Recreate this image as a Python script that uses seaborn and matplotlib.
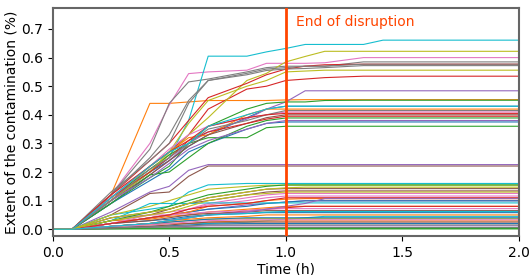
import matplotlib
matplotlib.use("Agg")
import matplotlib.pyplot as plt
import seaborn as sns
import pandas as pd

# sampling times (h)
time_h = [0, 0.083, 0.25, 0.417, 0.5, 0.583, 0.667, 0.833, 0.917, 1.0, 1.083, 1.167, 1.333, 1.417, 2.0]

# extent of contamination per run, blocks of ten runs
runs_01_10 = [
    [0, 0, 0.10, 0.20, 0.24, 0.29, 0.33, 0.39, 0.42, 0.43, 0.43, 0.43, 0.43, 0.43, 0.43],
    [0, 0, 0.12, 0.44, 0.44, 0.445, 0.45, 0.45, 0.45, 0.452, 0.453, 0.453, 0.453, 0.453, 0.453],
    [0, 0, 0.09, 0.18, 0.22, 0.30, 0.32, 0.32, 0.355, 0.36, 0.36, 0.36, 0.36, 0.36, 0.36],
    [0, 0, 0.11, 0.22, 0.27, 0.33, 0.42, 0.49, 0.50, 0.52, 0.525, 0.53, 0.535, 0.535, 0.535],
    [0, 0, 0.09, 0.19, 0.24, 0.30, 0.34, 0.385, 0.42, 0.445, 0.484, 0.484, 0.484, 0.484, 0.484],
    [0, 0, 0.05, 0.125, 0.13, 0.185, 0.221, 0.221, 0.221, 0.221, 0.221, 0.221, 0.221, 0.221, 0.221],
    [0, 0, 0.12, 0.30, 0.434, 0.544, 0.55, 0.556, 0.58, 0.58, 0.58, 0.582, 0.60, 0.60, 0.60],
    [0, 0, 0.12, 0.28, 0.44, 0.515, 0.525, 0.55, 0.565, 0.57, 0.57, 0.57, 0.585, 0.585, 0.585],
    [0, 0, 0.10, 0.20, 0.26, 0.33, 0.39, 0.52, 0.545, 0.585, 0.604, 0.622, 0.622, 0.622, 0.622],
    [0, 0, 0.10, 0.20, 0.25, 0.38, 0.605, 0.605, 0.62, 0.632, 0.646, 0.646, 0.646, 0.661, 0.661],
]
runs_11_20 = [
    [0, 0, 0.02, 0.03, 0.035, 0.045, 0.05, 0.055, 0.058, 0.058, 0.058, 0.058, 0.058, 0.058, 0.058],
    [0, 0, 0.10, 0.22, 0.27, 0.32, 0.33, 0.40, 0.42, 0.42, 0.42, 0.42, 0.42, 0.42, 0.42],
    [0, 0, 0.11, 0.21, 0.26, 0.30, 0.36, 0.42, 0.44, 0.445, 0.445, 0.45, 0.451, 0.451, 0.451],
    [0, 0, 0.12, 0.24, 0.30, 0.38, 0.46, 0.51, 0.54, 0.56, 0.57, 0.575, 0.577, 0.577, 0.577],
    [0, 0, 0.06, 0.13, 0.15, 0.206, 0.226, 0.226, 0.226, 0.226, 0.226, 0.226, 0.226, 0.226, 0.226],
    [0, 0, 0.10, 0.19, 0.24, 0.29, 0.33, 0.37, 0.39, 0.40, 0.40, 0.40, 0.40, 0.40, 0.40],
    [0, 0, 0.04, 0.05, 0.06, 0.07, 0.09, 0.11, 0.12, 0.125, 0.125, 0.125, 0.125, 0.125, 0.125],
    [0, 0, 0.13, 0.24, 0.30, 0.44, 0.52, 0.545, 0.56, 0.565, 0.57, 0.57, 0.577, 0.577, 0.577],
    [0, 0, 0.10, 0.20, 0.27, 0.37, 0.45, 0.50, 0.52, 0.55, 0.553, 0.556, 0.556, 0.556, 0.556],
    [0, 0, 0.05, 0.07, 0.08, 0.13, 0.155, 0.16, 0.16, 0.16, 0.16, 0.16, 0.16, 0.16, 0.16],
]
runs_21_30 = [
    [0, 0, 0.09, 0.17, 0.21, 0.27, 0.30, 0.35, 0.37, 0.375, 0.375, 0.375, 0.375, 0.375, 0.375],
    [0, 0, 0.03, 0.035, 0.045, 0.05, 0.06, 0.07, 0.075, 0.08, 0.08, 0.08, 0.08, 0.08, 0.08],
    [0, 0, 0.09, 0.19, 0.20, 0.25, 0.30, 0.36, 0.38, 0.389, 0.389, 0.389, 0.389, 0.389, 0.389],
    [0, 0, 0.11, 0.20, 0.25, 0.31, 0.34, 0.37, 0.385, 0.395, 0.395, 0.395, 0.395, 0.395, 0.395],
    [0, 0, 0.02, 0.04, 0.05, 0.06, 0.07, 0.085, 0.09, 0.095, 0.10, 0.10, 0.10, 0.10, 0.10],
    [0, 0, 0.04, 0.06, 0.07, 0.09, 0.11, 0.13, 0.14, 0.142, 0.142, 0.142, 0.142, 0.142, 0.142],
    [0, 0, 0.11, 0.22, 0.28, 0.33, 0.36, 0.39, 0.40, 0.41, 0.41, 0.41, 0.41, 0.41, 0.41],
    [0, 0, 0.12, 0.25, 0.33, 0.45, 0.52, 0.54, 0.555, 0.56, 0.562, 0.565, 0.572, 0.572, 0.572],
    [0, 0, 0.05, 0.08, 0.10, 0.12, 0.14, 0.15, 0.154, 0.154, 0.154, 0.154, 0.154, 0.154, 0.154],
    [0, 0, 0.01, 0.02, 0.02, 0.02, 0.02, 0.025, 0.03, 0.035, 0.04, 0.045, 0.045, 0.045, 0.045],
]
runs_31_40 = [
    [0, 0, 0.02, 0.04, 0.05, 0.06, 0.07, 0.08, 0.09, 0.095, 0.099, 0.099, 0.099, 0.099, 0.099],
    [0, 0, 0.01, 0.015, 0.02, 0.02, 0.025, 0.029, 0.029, 0.029, 0.029, 0.029, 0.029, 0.029, 0.029],
    [0, 0, 0.001, 0.001, 0.001, 0.001, 0.001, 0.001, 0.001, 0.001, 0.001, 0.001, 0.001, 0.001, 0.001],
    [0, 0, 0.01, 0.02, 0.03, 0.04, 0.05, 0.065, 0.07, 0.075, 0.08, 0.08, 0.08, 0.08, 0.08],
    [0, 0, 0.10, 0.18, 0.23, 0.28, 0.31, 0.35, 0.37, 0.38, 0.38, 0.38, 0.38, 0.38, 0.38],
    [0, 0, 0.03, 0.05, 0.07, 0.09, 0.10, 0.12, 0.13, 0.134, 0.134, 0.134, 0.134, 0.134, 0.134],
    [0, 0, 0.02, 0.04, 0.05, 0.07, 0.085, 0.10, 0.11, 0.116, 0.116, 0.116, 0.116, 0.116, 0.116],
    [0, 0, 0.10, 0.21, 0.25, 0.30, 0.35, 0.38, 0.40, 0.415, 0.415, 0.415, 0.415, 0.415, 0.415],
    [0, 0, 0.01, 0.02, 0.025, 0.03, 0.035, 0.037, 0.037, 0.037, 0.037, 0.037, 0.037, 0.037, 0.037],
    [0, 0, 0.03, 0.09, 0.09, 0.09, 0.092, 0.092, 0.092, 0.092, 0.092, 0.092, 0.092, 0.092, 0.092],
]
runs_41_50 = [
    [0, 0, 0.005, 0.01, 0.012, 0.015, 0.018, 0.02, 0.02, 0.02, 0.02, 0.02, 0.02, 0.02, 0.02],
    [0, 0, 0.02, 0.04, 0.05, 0.06, 0.08, 0.09, 0.10, 0.105, 0.107, 0.107, 0.107, 0.107, 0.107],
    [0, 0, 0.03, 0.06, 0.08, 0.10, 0.12, 0.14, 0.15, 0.155, 0.155, 0.155, 0.155, 0.155, 0.155],
    [0, 0, 0.12, 0.22, 0.27, 0.31, 0.36, 0.39, 0.40, 0.405, 0.405, 0.405, 0.405, 0.405, 0.405],
    [0, 0, 0.003, 0.006, 0.008, 0.01, 0.012, 0.012, 0.012, 0.012, 0.012, 0.012, 0.012, 0.012, 0.012],
    [0, 0, 0.02, 0.03, 0.04, 0.05, 0.055, 0.06, 0.065, 0.065, 0.065, 0.065, 0.065, 0.065, 0.065],
    [0, 0, 0.02, 0.05, 0.05, 0.055, 0.06, 0.065, 0.07, 0.072, 0.072, 0.072, 0.072, 0.072, 0.072],
    [0, 0, 0.002, 0.004, 0.005, 0.006, 0.006, 0.006, 0.006, 0.006, 0.006, 0.006, 0.006, 0.006, 0.006],
    [0, 0, 0.03, 0.05, 0.06, 0.08, 0.10, 0.12, 0.125, 0.13, 0.13, 0.13, 0.13, 0.13, 0.13],
    [0, 0, 0.11, 0.22, 0.27, 0.30, 0.36, 0.40, 0.42, 0.43, 0.43, 0.43, 0.43, 0.43, 0.43],
]
runs_51_60 = [
    [0, 0, 0.01, 0.02, 0.025, 0.03, 0.035, 0.04, 0.04, 0.04, 0.04, 0.04, 0.04, 0.04, 0.04],
    [0, 0, 0.01, 0.02, 0.03, 0.035, 0.04, 0.045, 0.05, 0.05, 0.05, 0.05, 0.05, 0.05, 0.05],
    [0, 0, 0.002, 0.003, 0.003, 0.003, 0.003, 0.003, 0.003, 0.003, 0.003, 0.003, 0.003, 0.003, 0.003],
    [0, 0, 0.02, 0.04, 0.05, 0.07, 0.08, 0.09, 0.10, 0.11, 0.11, 0.11, 0.11, 0.11, 0.11],
    [0, 0, 0.01, 0.02, 0.03, 0.04, 0.05, 0.06, 0.07, 0.08, 0.09, 0.107, 0.107, 0.107, 0.107],
    [0, 0, 0.005, 0.01, 0.015, 0.02, 0.025, 0.025, 0.025, 0.025, 0.025, 0.025, 0.025, 0.025, 0.025],
    [0, 0, 0.01, 0.015, 0.02, 0.025, 0.03, 0.033, 0.033, 0.033, 0.033, 0.033, 0.033, 0.033, 0.033],
    [0, 0, 0.004, 0.008, 0.01, 0.012, 0.015, 0.015, 0.015, 0.015, 0.015, 0.015, 0.015, 0.015, 0.015],
    [0, 0, 0.04, 0.06, 0.07, 0.09, 0.11, 0.13, 0.14, 0.145, 0.147, 0.147, 0.147, 0.147, 0.147],
    [0, 0, 0.01, 0.02, 0.03, 0.04, 0.05, 0.055, 0.06, 0.062, 0.062, 0.062, 0.062, 0.062, 0.062],
]

disruption_end_h = 1.0
disruption_label = "End of disruption"
x_label = "Time (h)"
y_label = "Extent of the contamination (%)"

all_runs = runs_01_10 + runs_11_20 + runs_21_30 + runs_31_40 + runs_41_50 + runs_51_60
rows = []
for i, run in enumerate(all_runs):
    for t, v in zip(time_h, run):
        rows.append({"run": i, "time": t, "value": v})
df = pd.DataFrame(rows)

plt.rcParams["font.family"] = ["DejaVu Sans"]
fig = plt.figure(figsize=(5.29, 2.75), dpi=100)
ax = fig.add_axes([0.0996, 0.142, 0.981 - 0.0996, 0.971 - 0.142])

palette = sns.color_palette("tab10", len(all_runs))
sns.lineplot(data=df, x="time", y="value", hue="run", palette=palette,
             estimator=None, sort=False, legend=False, linewidth=0.8, ax=ax)

ax.axvline(disruption_end_h, color="#ff4500", linewidth=2, zorder=5)
ax.text(1.043, 0.724, disruption_label, color="#ff4500", fontsize=10,
        va="center", ha="left")

ax.set_xlim(0, 2.0)
ax.set_ylim(-0.0235, 0.7735)
ax.set_xticks([0.0, 0.5, 1.0, 1.5, 2.0])
ax.set_yticks([0.0, 0.1, 0.2, 0.3, 0.4, 0.5, 0.6, 0.7])
ax.set_xlabel(x_label, fontsize=10, labelpad=2)
ax.set_ylabel(y_label, fontsize=10, labelpad=2)
ax.tick_params(labelsize=10)
for s in ax.spines.values():
    s.set_color("#666666")
    s.set_linewidth(1.5)

fig.savefig("out.png", dpi=100)
